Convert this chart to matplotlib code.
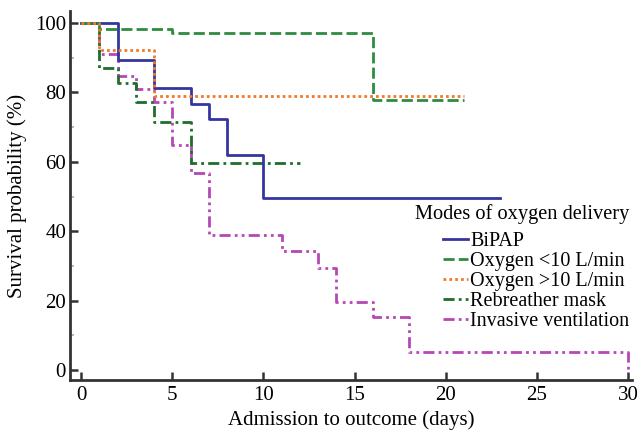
import matplotlib.pyplot as plt
from matplotlib.ticker import MultipleLocator

plt.rcParams['font.family'] = ['Liberation Serif', 'DejaVu Serif']

# survival curves (day, survival %)
bipap_t = [0, 2, 4, 6, 7, 8, 10, 23]
bipap_s = [100, 89.3, 81.3, 76.7, 72.3, 62, 49.6, 49.6]

o2low_t = [0, 1, 5, 16, 21]
o2low_s = [100, 98.4, 97, 77.8, 77.8]

o2high_t = [0, 1, 4, 21]
o2high_s = [100, 92.2, 79, 79]

rebr_t = [0, 1, 2, 3, 4, 6, 12]
rebr_s = [100, 86.9, 82.6, 77.1, 71.6, 59.6, 59.6]

inv_t = [0, 1, 2, 3, 4, 5, 6, 7, 11, 13, 14, 16, 18, 30, 30]
inv_s = [100, 91.2, 84.7, 80.9, 77.3, 64.8, 56.7, 38.9, 34.4, 29.3, 19.7, 15.2, 5.1, 5.1, 0]

labels = ['BiPAP', 'Oxygen <10 L/min', 'Oxygen >10 L/min',
          'Rebreather mask', 'Invasive ventilation']

fig = plt.figure(figsize=(6.44, 4.34), dpi=100)
ax = fig.add_axes([0.109, 0.124, 0.872, 0.851])

ax.step(inv_t, inv_s, where='post', color='#b548b5', lw=2.0,
        dashes=(4, 1.5, 1, 1.5, 1, 1.5), label=labels[4])
ax.step(rebr_t, rebr_s, where='post', color='#1f6e2c', lw=2.0,
        dashes=(4, 1.5, 1, 1.5), label=labels[3])
ax.step(bipap_t, bipap_s, where='post', color='#3535a0', lw=2.0,
        label=labels[0])
ax.step(o2low_t, o2low_s, where='post', color='#2e8c3e', lw=2.0,
        dashes=(4, 1.5), label=labels[1])
ax.step(o2high_t, o2high_s, where='post', color='#f07a2a', lw=2.0,
        dashes=(1, 1.1), label=labels[2])

ax.set_xlim(-0.6, 30.2)
ax.set_ylim(-2.9, 103.5)
ax.set_xticks(range(0, 31, 5))
ax.set_yticks(range(0, 101, 20))
ax.yaxis.set_minor_locator(MultipleLocator(10))

for s in ['top', 'right']:
    ax.spines[s].set_visible(False)
for s in ['left', 'bottom']:
    ax.spines[s].set_linewidth(2.0)
    ax.spines[s].set_color('#333333')

ax.tick_params(which='major', direction='in', length=6, width=1.8,
               color='#333333', labelsize=15)
ax.tick_params(axis='x', pad=4)
ax.tick_params(axis='y', pad=3)
ax.tick_params(axis='y', which='minor', direction='in', length=3,
               width=1.2, color='#aaaaaa')

ax.set_xlabel('Admission to outcome (days)', fontsize=15, labelpad=4)
ax.set_ylabel('Survival probability (%)', fontsize=15, labelpad=6)

h, l = ax.get_legend_handles_labels()
order = [l.index(x) for x in labels]
leg = ax.legend([h[i] for i in order], [l[i] for i in order],
                title='Modes of oxygen delivery', title_fontsize=14.7,
                fontsize=14.5, frameon=False, loc='upper left',
                alignment='right',
                bbox_to_anchor=(415 / 644, 1 - 204 / 434),
                bbox_transform=fig.transFigure, borderpad=0, borderaxespad=0,
                handlelength=1.25, handletextpad=0.1, labelspacing=0.05)
leg._legend_box.sep = 5.5

fig.savefig('out.png', dpi=100)
